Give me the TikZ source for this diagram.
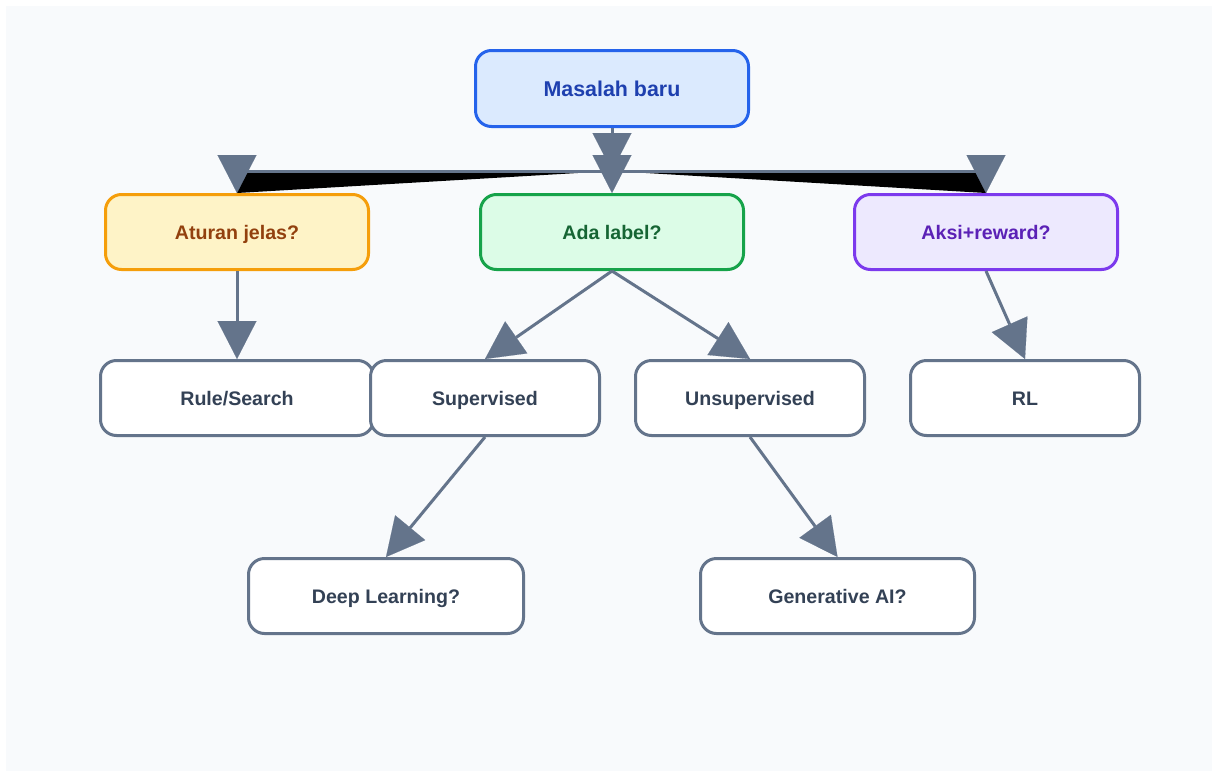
\documentclass[tikz,border=0pt]{standalone}
\usepackage{fontspec}
\setmainfont{Liberation Sans}
\usetikzlibrary{arrows.meta}
\definecolor{bgc}{HTML}{F8FAFC}
\definecolor{edgec}{HTML}{64748B}
\definecolor{leaftext}{HTML}{334155}
\definecolor{bluef}{HTML}{DBEAFE}
\definecolor{blued}{HTML}{2563EB}
\definecolor{bluet}{HTML}{1E40AF}
\definecolor{yelf}{HTML}{FEF3C7}
\definecolor{yeld}{HTML}{F59E0B}
\definecolor{yelt}{HTML}{92400E}
\definecolor{grnf}{HTML}{DCFCE7}
\definecolor{grnd}{HTML}{16A34A}
\definecolor{grnt}{HTML}{166534}
\definecolor{purf}{HTML}{EDE9FE}
\definecolor{purd}{HTML}{7C3AED}
\definecolor{purt}{HTML}{5B21B6}
\begin{document}
\begin{tikzpicture}[x=1pt,y=-1pt,
  box/.style={draw, rounded corners=16pt, line width=3pt, inner sep=0pt,
    minimum height=75pt, text height=14pt, text depth=0pt,
    font=\bfseries\fontsize{19.6}{22}\selectfont},
  leaf/.style={box, draw=edgec, fill=white, text=leaftext, minimum width=229pt},
  quest/.style={box, minimum width=263pt},
  edge/.style={draw=edgec, line width=3pt},
  arr/.style={-{Triangle[length=38pt,width=39pt,line width=0.1pt]}}]
\useasboundingbox (0,0) rectangle (1212,771);
\fill[bgc] (6,6) rectangle (1212,771);

\node[box, fill=bluef, draw=blued, text=bluet, minimum width=273pt, minimum height=76pt,
  text height=15.3pt, font=\bfseries\fontsize{21.4}{24}\selectfont] (masalah) at (612,88.5) {Masalah baru};
\node[quest, fill=yelf, draw=yeld, text=yelt] (aturan) at (237,232) {Aturan jelas?};
\node[quest, fill=grnf, draw=grnd, text=grnt] (ada) at (612,232) {Ada label?};
\node[quest, fill=purf, draw=purd, text=purt] (aksi) at (986,232) {Aksi+reward?};

\node[leaf, minimum width=273pt] (rule) at (237,398) {Rule/Search};
\node[leaf] (sup) at (485,398) {Supervised};
\node[leaf] (unsup) at (750,398) {Unsupervised};
\node[leaf] (rl) at (1025,398) {RL};
\node[leaf, minimum width=275pt] (deep) at (386,596) {Deep Learning?};
\node[leaf, minimum width=274pt] (gen) at (837.5,596) {Generative AI?};

\coordinate (j) at (612,171);
\fill[black] (j) -- (j -| aturan.north) -- (aturan.north) -- cycle;
\fill[black] (j) -- (j -| aksi.north) -- (aksi.north) -- cycle;
\draw[edge] (j -| aturan.north) -- (j -| aksi.north);
\draw[edge, arr] (masalah.south) -- (j);
\draw[edge, arr] (j) -- (ada.north);
\draw[edge, arr] (j -| aturan.north) -- (aturan.north);
\draw[edge, arr] (j -| aksi.north) -- (aksi.north);

\draw[edge, arr] (aturan.south) -- (rule.north);
\draw[edge, arr] (ada.south) -- (sup.north);
\draw[edge, arr] (ada.south) -- (unsup.north);
\draw[edge, arr] (aksi.south) -- (rl.north);
\draw[edge, arr] (sup.south) -- (deep.north);
\draw[edge, arr] (unsup.south) -- (gen.north);
\end{tikzpicture}
\end{document}
